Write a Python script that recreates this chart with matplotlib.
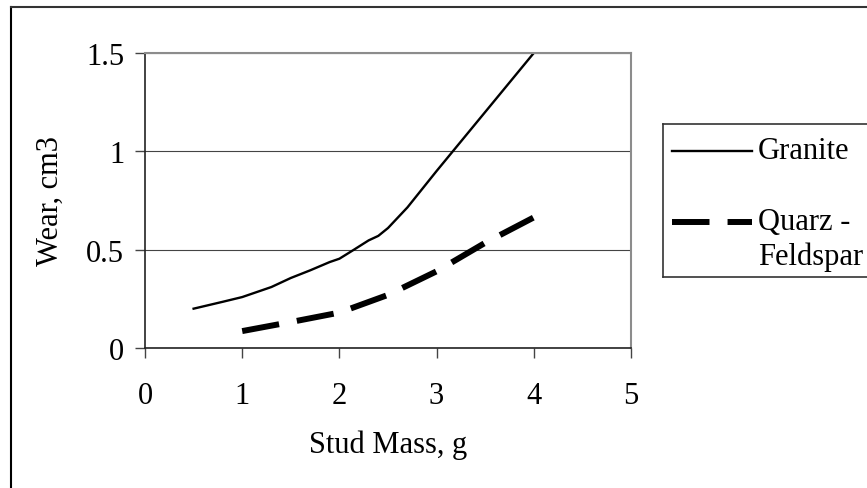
import matplotlib

matplotlib.use("Agg")
import matplotlib.pyplot as plt
from matplotlib.lines import Line2D

# stud mass (g) vs. wear volume (cm3)
granite_mass = [0.5, 0.8, 1.0, 1.3, 1.5, 1.7, 1.9, 2.0, 2.15, 2.3, 2.4, 2.5, 2.7, 3.0, 3.5, 4.0]
granite_wear = [0.20, 0.235, 0.259, 0.31, 0.356, 0.395, 0.437, 0.454, 0.50, 0.547, 0.57, 0.61, 0.715, 0.90, 1.20, 1.50]

quarz_mass = [1.0, 1.5, 2.0, 2.3, 2.5, 3.0, 3.5, 4.0, 4.1]
quarz_wear = [0.086, 0.132, 0.18, 0.234, 0.27, 0.39, 0.535, 0.664, 0.69]

x_ticks = [0, 1, 2, 3, 4, 5]
y_ticks = [0, 0.5, 1, 1.5]
y_tick_labels = ["0", "0.5", "1", "1.5"]

plt.rcParams["font.family"] = ["Liberation Serif", "DejaVu Serif"]
plt.rcParams["lines.scale_dashes"] = False
FS = 22

fig = plt.figure(figsize=(8.67, 4.89), dpi=100)
W, H = 867, 489


def px_rect(x0, y0, x1, y1):
    """Pixel box (top-left origin) -> figure fraction rect."""
    return [x0 / W, 1 - y1 / H, (x1 - x0) / W, (y1 - y0) / H]


ax = fig.add_axes(px_rect(145, 54, 631, 349))
ax.plot(granite_mass, granite_wear, color="black", lw=1.7, solid_joinstyle="round")
ax.plot(quarz_mass, quarz_wear, color="black", lw=4.3, dashes=(27, 13),
        dash_capstyle="butt")

ax.set_xlim(0, 5)
ax.set_ylim(0, 1.5)
ax.set_xticks(x_ticks)
ax.set_yticks(y_ticks)
ax.set_yticklabels(y_tick_labels)
ax.yaxis.grid(True, color="#444444", lw=0.8)
ax.set_axisbelow(True)

for side in ("top", "right"):
    ax.spines[side].set_color("#8c8c8c")
    ax.spines[side].set_linewidth(1.5)
for side in ("left", "bottom"):
    ax.spines[side].set_color("#222222")
    ax.spines[side].set_linewidth(1.2)

ax.tick_params(axis="y", direction="out", length=7, width=1, color="#444444",
               labelsize=FS, pad=8)
ax.tick_params(axis="x", direction="out", length=7, width=1, color="#444444",
               labelsize=FS, pad=17)
ax.set_xlabel("Stud Mass, g", fontsize=FS, labelpad=14)
ax.set_ylabel("Wear, cm3", fontsize=FS)
ax.yaxis.set_label_coords(-0.165, 0.5)

# legend box, open on the right where the canvas ends
lax = fig.add_axes(px_rect(663, 125, 880, 278))
lax.set_xlim(663, 880)
lax.set_ylim(278, 125)
lax.set_xticks([])
lax.set_yticks([])
for side in lax.spines.values():
    side.set_color("#333333")
    side.set_linewidth(1.2)
lax.plot([672, 752], [151.5, 151.5], color="black", lw=1.7)
lax.text(758, 151.5, "Granite", fontsize=FS, va="center", ha="left")
lax.plot([672, 752], [222.5, 222.5], color="black", lw=4.3, dashes=(27, 13),
         dash_capstyle="butt")
lax.text(758, 223, "Quarz -", fontsize=FS, va="center", ha="left")
lax.text(758, 257, "Feldspar", fontsize=FS, va="center", ha="left")

# chart frame
fig.add_artist(Line2D([11 / W, 11 / W], [0, 1 - 7.5 / H], transform=fig.transFigure,
                      color="black", lw=1.5))
fig.add_artist(Line2D([11 / W, 1], [1 - 7.5 / H, 1 - 7.5 / H], transform=fig.transFigure,
                      color="#333333", lw=1.5))

fig.savefig("out.png", dpi=100)
